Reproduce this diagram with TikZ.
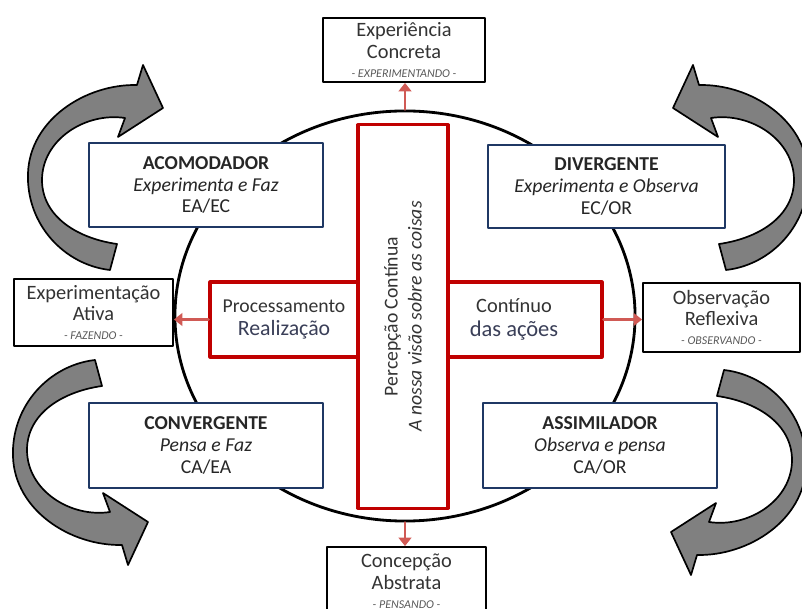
\documentclass[tikz,border=0pt]{standalone}
\usepackage{fontspec}
\setmainfont{Carlito}
\usetikzlibrary{arrows.meta,shapes.geometric}

\definecolor{boxred}{HTML}{C00000}
\definecolor{boxblue}{HTML}{1F3864}
\definecolor{linkred}{HTML}{D05A55}
\definecolor{ribbongray}{HTML}{808080}
\definecolor{txt}{HTML}{333333}
\definecolor{txtblue}{HTML}{3A3F58}

% small italic line under the black boxes
\newcommand{\modo}[1]{{\fontsize{8.5}{9}\selectfont\itshape\color{black!65}#1}}
% bent ribbon arrow, drawn once and mirrored
\newcommand{\bentarrow}{(110,270) -- (117,244) .. controls (75,238) and (42,215) .. (42,180)
  .. controls (42,140) and (85,112) .. (125,118) -- (118,137) -- (163,108) -- (143,65) -- (137,85)
  .. controls (85,84) and (30,120) .. (28,173) .. controls (26,225) and (65,265) .. (110,270) -- cycle}

\begin{document}
\begin{tikzpicture}[x=0.025cm,y=-0.025cm,line cap=round,line join=round,
  stage/.style={draw=black,line width=1.3pt,fill=white,align=center,text=txt,
    font=\fontsize{14.5}{15.5}\selectfont,inner sep=0pt},
  learner/.style={draw=boxblue,line width=2pt,fill=white,align=center,text=black!85,
    font=\fontsize{14}{15.6}\selectfont,inner sep=0pt},
  axis/.style={draw=boxred,line width=2.2pt,fill=white,align=center,text=txt,inner sep=0pt},
  link/.style={draw=linkred,line width=2pt,-{Triangle[length=6pt,width=9pt]}},
  ribbon/.style={fill=ribbongray,draw=black,line width=1.2pt}]
  \useasboundingbox (0,0) rectangle (802,609);

  \node[draw,line width=2pt,ellipse,minimum width=11.5cm,minimum height=10.25cm,inner sep=0pt] (ciclo) at (405,316) {};

  % the four ribbons
  \draw[ribbon] \bentarrow;
  \begin{scope}[shift={(836,0)},xscale=-1]
    \draw[ribbon] \bentarrow;
  \end{scope}
  \begin{scope}[shift={(-15,630)},yscale=-1]
    \draw[ribbon] \bentarrow;
  \end{scope}
  \begin{scope}[shift={(834,640)},xscale=-1,yscale=-1]
    \draw[ribbon] \bentarrow;
  \end{scope}

  % red cross
  \node[axis,minimum width=3.7cm,minimum height=1.875cm,font=\fontsize{14}{17}\selectfont] (proc) at (284,319.5)
    {Processamento\\{\fontsize{15.5}{17}\selectfont\color{txtblue}Realização}};
  \node[axis,minimum width=4.4cm,minimum height=1.875cm,font=\fontsize{14.5}{17}\selectfont] (cont) at (514,319.5)
    {Contínuo\\{\fontsize{16}{17}\selectfont\color{txtblue}das ações}};
  \node[axis,rotate=90,minimum width=9.575cm,minimum height=2.25cm,font=\fontsize{14}{17}\selectfont] (percep) at (403,316.5)
    {Percepção Contínua\\\textit{A nossa visão sobre as coisas}};

  % learning styles
  \node[learner,minimum width=5.85cm,minimum height=2.1cm] (acom) at (206,185)
    {\textbf{ACOMODADOR}\\\textit{Experimenta e Faz}\\EA/EC};
  \node[learner,minimum width=5.925cm,minimum height=2.075cm] (diverg) at (606.5,186.5)
    {\textbf{DIVERGENTE}\\\textit{Experimenta e Observa}\\EC/OR};
  \node[learner,minimum width=5.85cm,minimum height=2.125cm] (converg) at (206,445.5)
    {\textbf{CONVERGENTE}\\\textit{Pensa e Faz}\\CA/EA};
  \node[learner,minimum width=5.85cm,minimum height=2.125cm] (assim) at (600,445.5)
    {\textbf{ASSIMILADOR}\\\textit{Observa e pensa}\\CA/OR};

  % stages of the cycle
  \node[stage,minimum width=4.05cm,minimum height=1.6cm] (concreta) at (404,50)
    {Experiência\\Concreta\\[-2pt]\modo{- EXPERIMENTANDO -}};
  \node[stage,minimum width=3.975cm,minimum height=1.675cm] (ativa) at (93.5,312.5)
    {Experimentação\\Ativa\\[-2pt]\modo{- FAZENDO -}};
  \node[stage,minimum width=3.925cm,minimum height=1.725cm] (reflexiva) at (721.5,317.5)
    {Observação\\Reflexiva\\[-2pt]\modo{- OBSERVANDO -}};
  \node[stage,minimum width=3.975cm,minimum height=1.7cm] (abstrata) at (406.5,581)
    {Concepção\\Abstrata\\[-2pt]\modo{- PENSANDO -}};

  \draw[link] (ciclo.north) -- (ciclo.north |- concreta.south);
  \draw[link] (ciclo.south) -- (ciclo.south |- abstrata.north);
  \draw[link] (proc.west) -- (proc.west -| ativa.east);
  \draw[link] (cont.east) -- (cont.east -| reflexiva.west);
\end{tikzpicture}
\end{document}
